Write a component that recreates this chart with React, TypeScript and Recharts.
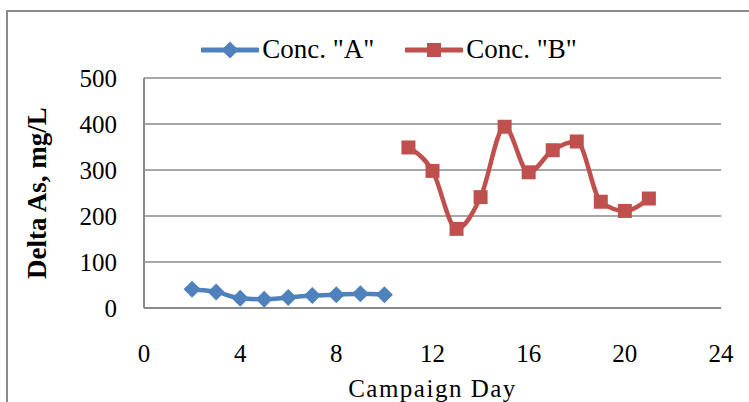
import React from 'react';
import { LineChart, Line, XAxis, YAxis, CartesianGrid, Legend } from 'recharts';

const daysA = [2, 3, 4, 5, 6, 7, 8, 9, 10];
const concA = [41, 35, 21, 19, 23, 27, 29, 31, 29];
const daysB = [11, 12, 13, 14, 15, 16, 17, 18, 19, 20, 21];
const concB = [349, 298, 172, 241, 394, 295, 343, 362, 231, 211, 238];
const xTicks = [0, 4, 8, 12, 16, 20, 24];
const yTicks = [0, 100, 200, 300, 400, 500];
const seriesNames = ['Conc. "A"', 'Conc. "B"'];

const BLUE = '#4F81BD';
const RED = '#C0504D';
const GRID = '#8a8a8a';
const FONT = '"Liberation Serif", serif';

const dataA = daysA.map((d, i) => ({ day: d, value: concA[i] }));
const dataB = daysB.map((d, i) => ({ day: d, value: concB[i] }));

const Diamond = (props: any) => {
  const { cx, cy, index } = props;
  if (cx == null || cy == null) return null;
  const r = 8.5;
  return (
    <path
      key={`d-${index}`}
      d={`M${cx},${cy - r}L${cx + r},${cy}L${cx},${cy + r}L${cx - r},${cy}Z`}
      fill={BLUE}
    />
  );
};

const Square = (props: any) => {
  const { cx, cy, index } = props;
  if (cx == null || cy == null) return null;
  const s = 7;
  return <rect key={`s-${index}`} x={cx - s} y={cy - s} width={2 * s} height={2 * s} fill={RED} />;
};

const LegendContent = () => {
  const items = [
    { name: seriesNames[0], color: BLUE, marker: 'diamond' },
    { name: seriesNames[1], color: RED, marker: 'square' },
  ];
  return (
    <div style={{ display: 'flex', justifyContent: 'center', alignItems: 'center', paddingLeft: 13, paddingTop: 3 }}>
      {items.map((it, i) => (
        <div key={i} style={{ display: 'flex', alignItems: 'center', marginRight: i === 0 ? 31 : 0 }}>
          <svg width={58} height={20}>
            <line x1={1.5} y1={10} x2={56.5} y2={10} stroke={it.color} strokeWidth={5} strokeLinecap="round" />
            {it.marker === 'diamond' ? (
              <path d="M29,1.5L37.5,10L29,18.5L20.5,10Z" fill={it.color} />
            ) : (
              <rect x={22} y={3} width={14} height={14} fill={it.color} />
            )}
          </svg>
          <span style={{ fontFamily: FONT, fontSize: 27, color: '#000', marginLeft: 3 }}>{it.name}</span>
        </div>
      ))}
    </div>
  );
};

export default function App() {
  return (
    <div style={{ position: 'absolute', left: 0, top: 0, width: 749, height: 402, background: '#fff', overflow: 'hidden' }}>
      <div
        style={{
          position: 'absolute',
          left: 6,
          top: 10,
          width: 800,
          height: 500,
          border: '2px solid #8c8c8c',
          boxSizing: 'border-box',
        }}
      />
      <div style={{ position: 'absolute', left: 0, top: 0 }}>
        <LineChart
          width={749}
          height={402}
          margin={{ top: 31, right: 28, bottom: 0, left: 44 }}
          style={{ fontFamily: FONT }}
        >
          <CartesianGrid vertical={false} stroke={GRID} strokeWidth={1.5} />
          <XAxis
            dataKey="day"
            type="number"
            domain={[0, 24]}
            ticks={xTicks}
            allowDuplicatedCategory={false}
            height={94}
            tickLine={false}
            tickSize={0}
            tickMargin={36}
            axisLine={{ stroke: GRID, strokeWidth: 2 }}
            tick={{ fill: '#000', fontSize: 25, fontFamily: FONT }}
            label={{
              value: 'Campaign Day',
              position: 'insideBottom',
              offset: 5,
              fill: '#000',
              fontSize: 25,
              fontFamily: FONT,
              style: { letterSpacing: '1.5px' },
            }}
          />
          <YAxis
            type="number"
            domain={[0, 500]}
            ticks={yTicks}
            width={100}
            tickLine={false}
            tickSize={0}
            tickMargin={27}
            axisLine={{ stroke: GRID, strokeWidth: 2 }}
            tick={{ fill: '#000', fontSize: 25, fontFamily: FONT }}
            label={{
              value: 'Delta As, mg/L',
              angle: -90,
              position: 'center',
              dx: -58,
              fill: '#000',
              fontSize: 27,
              fontWeight: 'bold',
              fontFamily: FONT,
            }}
          />
          <Legend verticalAlign="top" height={47} content={<LegendContent />} />
          <Line
            data={dataA}
            dataKey="value"
            name={seriesNames[0]}
            type="monotone"
            stroke={BLUE}
            strokeWidth={4.5}
            dot={<Diamond />}
            activeDot={false}
            isAnimationActive={false}
          />
          <Line
            data={dataB}
            dataKey="value"
            name={seriesNames[1]}
            type="monotone"
            stroke={RED}
            strokeWidth={4.5}
            dot={<Square />}
            activeDot={false}
            isAnimationActive={false}
          />
        </LineChart>
      </div>
    </div>
  );
}
